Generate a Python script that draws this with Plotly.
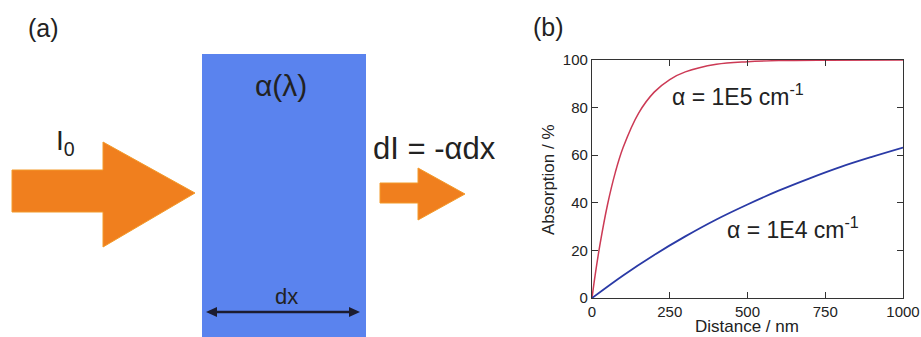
import plotly.graph_objects as go

# Absorbed fraction versus depth for two absorption coefficients
distance_red = [0, 10, 25, 50, 75, 100, 150, 200, 250, 300, 400, 500, 600, 750, 1000]
absorb_red = [0, 9.5, 22, 39.3, 52.8, 63.2, 77.7, 86.5, 91.8, 95.0, 98.2, 99.3, 99.75, 99.94, 100]
distance_blue = [0, 100, 200, 300, 400, 500, 600, 700, 800, 900, 1000]
absorb_blue = [0, 9.5, 18.1, 25.9, 33.0, 39.3, 45.1, 50.3, 55.1, 59.3, 63.2]

x_ticks = [0, 250, 500, 750, 1000]
y_ticks = [0, 20, 40, 60, 80, 100]

label_red = "α = 1E5 cm<sup>-1</sup>"
label_blue = "α = 1E4 cm<sup>-1</sup>"
x_title = "Distance / nm"
y_title = "Absorption / %"

W, H = 921, 337
FONT = "Liberation Sans"
INK = "#222222"
ORANGE = "#f07f1e"
SLAB = "#5a83ee"

# plot-area edges of panel (b), in pixels
PX0, PX1, PY0, PY1 = 592, 903, 60, 298

fig = go.Figure()
fig.add_trace(go.Scatter(x=distance_red, y=absorb_red, mode="lines",
                         line=dict(color="#cc3a55", width=1.5, shape="spline"),
                         xaxis="x", yaxis="y", showlegend=False))
fig.add_trace(go.Scatter(x=distance_blue, y=absorb_blue, mode="lines",
                         line=dict(color="#2a3aa6", width=1.8, shape="spline"),
                         xaxis="x", yaxis="y", showlegend=False))

axis_common = dict(showgrid=False, zeroline=False, showline=True, linecolor="#333333",
                   linewidth=1.3, ticks="inside", ticklen=6, tickwidth=1.3,
                   tickcolor="#333333", mirror="ticks", automargin=False,
                   tickfont=dict(family=FONT, size=15, color=INK))

fig.update_layout(
    width=W, height=H, margin=dict(l=0, r=0, t=0, b=0, autoexpand=False),
    paper_bgcolor="white", plot_bgcolor="rgba(0,0,0,0)",
    xaxis=dict(domain=[PX0 / W, PX1 / W], range=[0, 1000], tickvals=x_ticks,
               anchor="y", **axis_common),
    yaxis=dict(domain=[1 - PY1 / H, 1 - PY0 / H], range=[0, 100], tickvals=y_ticks,
               anchor="x", **axis_common),
    # pixel canvas for the schematic of panel (a) and free-standing labels
    xaxis2=dict(domain=[0, 1], range=[0, W], visible=False, anchor="y2", automargin=False),
    yaxis2=dict(domain=[0, 1], range=[H, 0], visible=False, anchor="x2", automargin=False),
)

shapes = []
# absorbing slab
shapes.append(dict(type="rect", xref="x2", yref="y2", x0=202, x1=366, y0=54, y1=H + 2,
                   fillcolor=SLAB, line=dict(width=0), layer="below"))
# incident beam
shapes.append(dict(type="path", xref="x2", yref="y2",
                   path="M 12 170 L 103 170 L 103 142 L 195 193 L 103 247 L 103 212 L 12 212 Z",
                   fillcolor=ORANGE, line=dict(color="#f39a2a", width=1)))
# transmitted beam
shapes.append(dict(type="path", xref="x2", yref="y2",
                   path="M 380 183 L 418 183 L 418 168 L 465 194 L 418 220 L 418 203 L 380 203 Z",
                   fillcolor=ORANGE, line=dict(color="#f39a2a", width=1)))
# thickness marker
shapes.append(dict(type="line", xref="x2", yref="y2", x0=214, x1=352, y0=312, y1=312,
                   line=dict(color="#1c1c30", width=2.5)))
shapes.append(dict(type="path", xref="x2", yref="y2",
                   path="M 206 312 L 217 307 L 217 317 Z", fillcolor="#1c1c30",
                   line=dict(width=0)))
shapes.append(dict(type="path", xref="x2", yref="y2",
                   path="M 360 312 L 349 307 L 349 317 Z", fillcolor="#1c1c30",
                   line=dict(width=0)))
fig.update_layout(shapes=shapes)


def label(text, x, y, size, ref="x2", angle=0, yanchor="middle"):
    yr = "y2" if ref == "x2" else "y"
    return dict(text=text, x=x, y=y, xref=ref, yref=yr, showarrow=False,
                font=dict(family=FONT, size=size, color=INK), textangle=angle,
                xanchor="center", yanchor=yanchor, borderpad=0)


annotations = [
    label("(a)", 43, 28, 25),
    label("(b)", 548, 27, 25),
    label("α(λ)", 281, 85, 30),
    label("I<sub>0</sub>", 65, 142, 28),
    label("dI = -αdx", 434, 148, 31),
    label("dx", 286, 296, 22),
    label(x_title, 747, 336.5, 17, yanchor="bottom"),
    label(y_title, 548, 180, 17, angle=-90),
    label(label_red, 469, 85.3, 23, ref="x"),
    label(label_blue, 646, 29.4, 23, ref="x"),
]
fig.update_layout(annotations=annotations)

# page without body margin so the figure fills the window exactly
fig.write_html("out.html", post_script="document.body.style.margin='0';")
